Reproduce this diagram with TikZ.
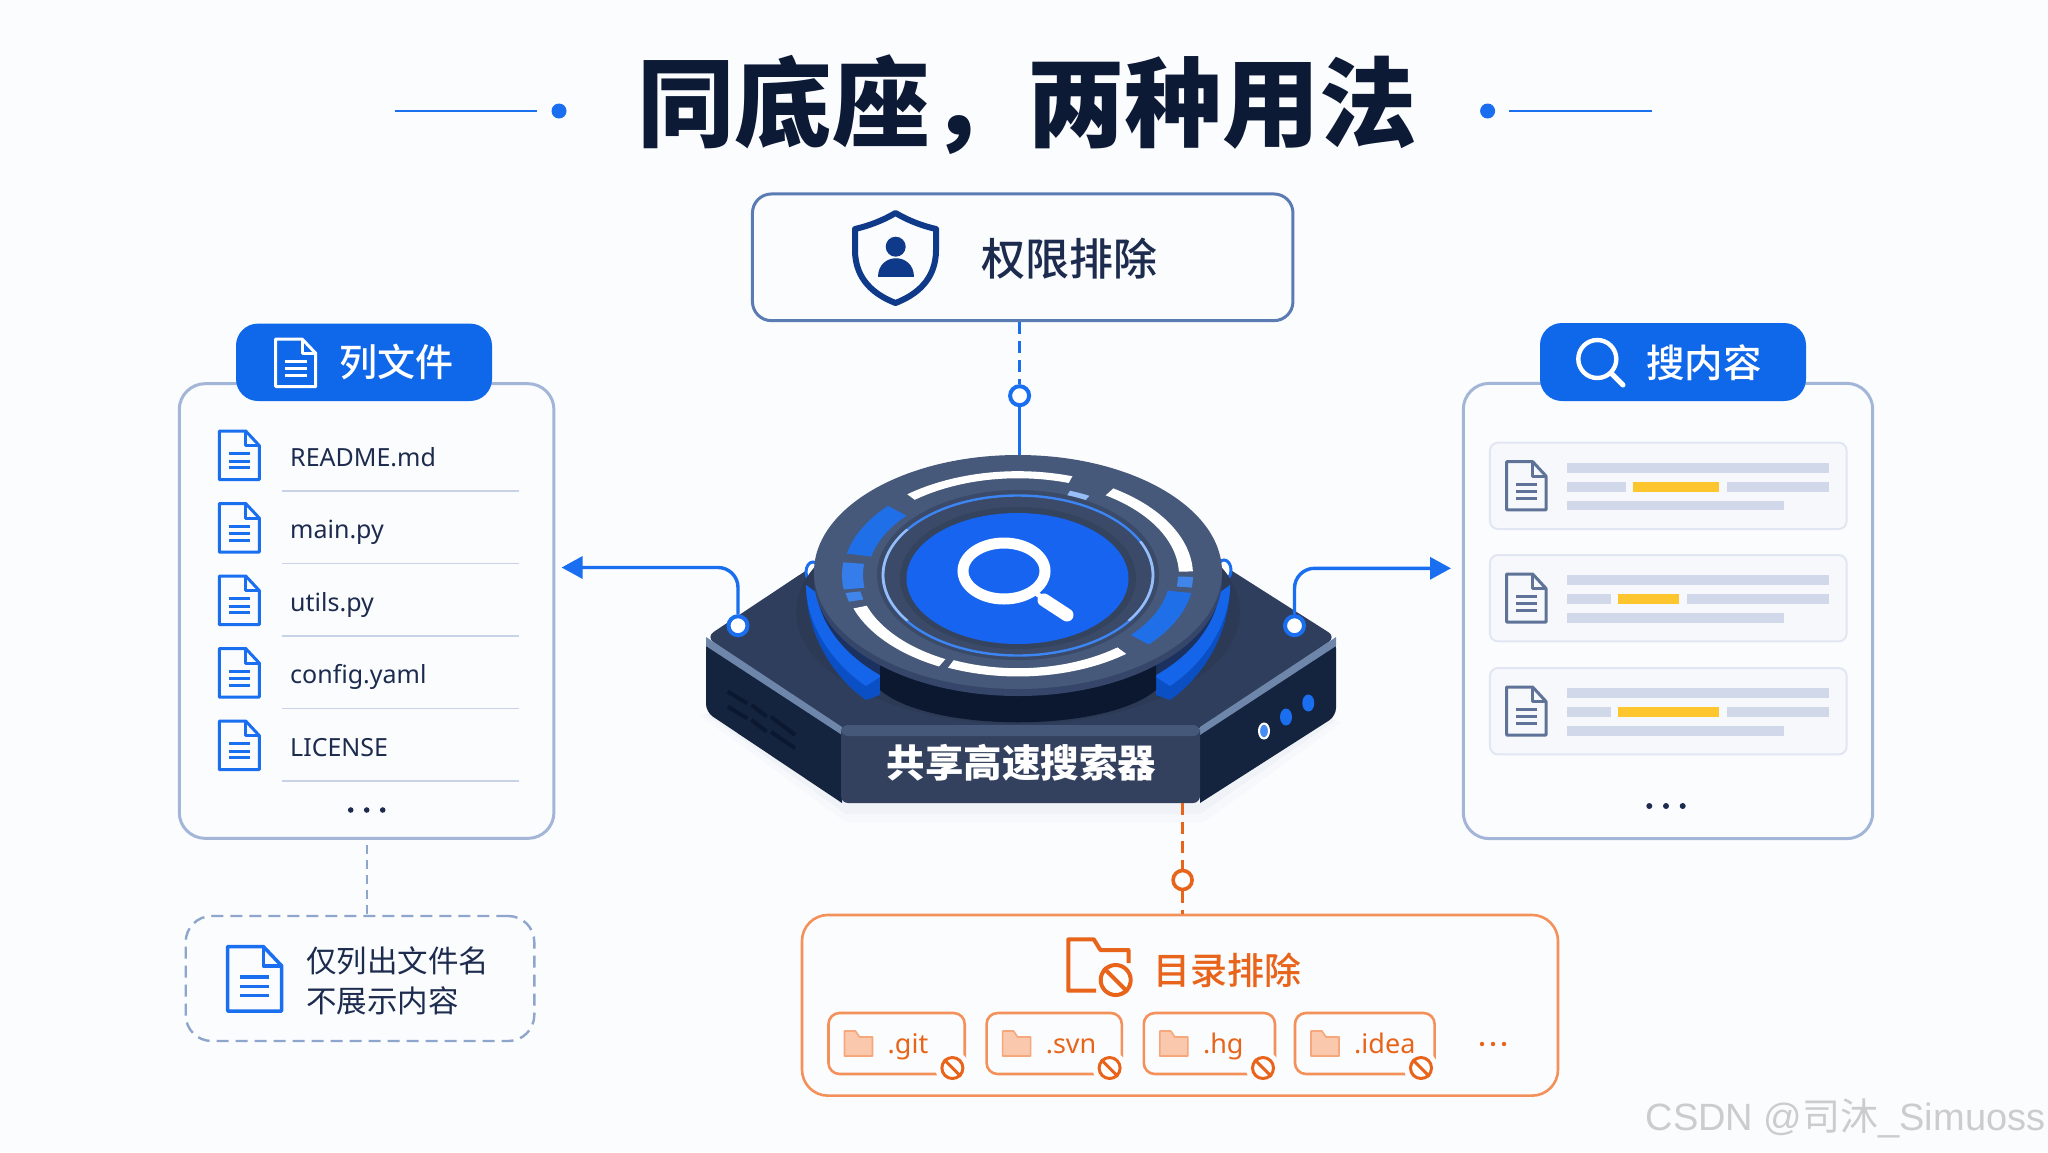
\documentclass[tikz,border=0pt]{standalone}
\usepackage{fontspec}
\setmainfont{Noto Sans CJK SC}
\newfontfamily\latfont{Noto Sans}
\newfontfamily\medfont{Noto Sans CJK SC Medium}
\newfontfamily\markfont{Liberation Sans}
\newfontfamily\markcjk{Noto Sans CJK SC}
\usetikzlibrary{arrows.meta,calc,shapes.geometric}
\definecolor{bgc}{HTML}{FBFCFE}
\definecolor{ink}{HTML}{1C2B4E}
\definecolor{titleink}{HTML}{0D1A36}
\definecolor{blue1}{HTML}{1A6FF0}
\definecolor{blue2}{HTML}{0F67EA}
\definecolor{panelline}{HTML}{A3B6D8}
\definecolor{noteline}{HTML}{8EA5CC}
\definecolor{permline}{HTML}{5B7BB3}
\definecolor{shield}{HTML}{0F3A8A}
\definecolor{orange1}{HTML}{E8641B}
\definecolor{orange2}{HTML}{F4915A}
\definecolor{rule1}{HTML}{C8D3E7}
\definecolor{cardfill}{HTML}{F6F8FC}
\definecolor{cardline}{HTML}{E0E6F2}
\definecolor{barc}{HTML}{D0D8E9}
\definecolor{hi}{HTML}{FDC62E}
\definecolor{slate}{HTML}{5F7398}
\definecolor{navytop}{HTML}{2F3E5C}
\definecolor{navyside}{HTML}{14233E}
\definecolor{plate}{HTML}{33415F}
\definecolor{plateup}{HTML}{46587A}
\definecolor{bevel}{HTML}{6F86AB}
\definecolor{discface}{HTML}{46597A}
\definecolor{discside}{HTML}{35466A}
\definecolor{discdark}{HTML}{3A4A68}
\definecolor{wing}{HTML}{1565EA}
\definecolor{wingdark}{HTML}{0B4FC4}
\definecolor{wingin}{HTML}{1B3160}
\definecolor{hole}{HTML}{0B1830}
\definecolor{segblue}{HTML}{1F6FE8}
\tikzset{
 x=1pt,y=-1pt,
 conn/.style={draw=blue1,line width=3.4pt},
 conndash/.style={conn,dash pattern=on 12pt off 7pt},
 orangedash/.style={draw=orange1,line width=2.8pt,dash pattern=on 12pt off 7pt},
 hubdot/.style={circle,draw=blue1,fill=white,line width=4pt,minimum size=19pt,inner sep=0pt},
 panel/.style={draw=panelline,fill=bgc,line width=3pt,rounded corners=26pt,inner sep=0pt},
 headerbox/.style={fill=blue2,rounded corners=22pt,inner sep=0pt},
 headtext/.style={text=white,font=\medfont\fontsize{38}{38}\selectfont,inner sep=0pt},
 filename/.style={text=ink,font=\latfont\fontsize{25}{25}\selectfont,anchor=base west,inner sep=0pt},
 notetext/.style={text=ink,font=\fontsize{30.5}{30.5}\selectfont,anchor=west,inner sep=0pt},
 chipbox/.style={draw=orange2,line width=2.6pt,rounded corners=11pt,inner sep=0pt},
 chiptext/.style={text=orange1,font=\latfont\fontsize{27}{27}\selectfont,anchor=base west,inner sep=0pt},
 banmark/.style={circle,draw=orange1,fill=white,line width=3pt,minimum size=21pt,inner sep=0pt},
 cardbox/.style={draw=cardline,fill=cardfill,line width=2pt,rounded corners=8pt,inner sep=0pt},
}
% file icon
\newcommand\docicon[6]{\begin{scope}[shift={(#1,#2)},x=#3pt,y=-#4pt,line width=#6pt,draw=#5,line join=round]
 \draw (0,0) -- (.66,0) -- (1,.30) -- (1,1) -- (0,1) -- cycle;
 \draw (.66,0) -- (.66,.30) -- (1,.30);
 \draw (.23,.47) -- (.77,.47) (.23,.62) -- (.77,.62) (.23,.76) -- (.77,.76);
\end{scope}}
% ring segment on the disc
\newcommand\segm[5]{\fill[#1] plot[domain=#2:#3,samples=24] ({1018+#4*cos(\x)},{575+0.59*#4*sin(\x)}) -- plot[domain=#3:#2,samples=24] ({1018+#5*cos(\x)},{575+0.59*#5*sin(\x)}) -- cycle;}
% side wing of the disc
\newcommand\wingpiece{%
 \fill[wingdark] (806,585) .. controls (806,630) and (830,675) .. (866,700) -- (880,695) -- (880,640) -- cycle;
 \fill[wing] (806,585) .. controls (806,622) and (830,662) .. (866,686) -- (880,677) -- (880,640) -- cycle;
 \fill[wingin] (816,590) .. controls (820,625) and (845,655) .. (880,675) -- (880,630) -- cycle;
}
% excluded-directory chip
\newcommand\chipitem[5]{%
 \node[chipbox,minimum width=#3-#2,minimum height=61pt] (chip#1) at ({(#2+#3)/2},1043.5) {};
 \fill[bgc] (#5,1068) circle[radius=17];
 \begin{scope}[shift={(#2+16,1031)}]
 \draw[draw=orange2!80,fill=orange2!50,line width=1.6pt,line join=round] (0,0) -- (11,0) -- (15,6) -- (28,6) -- (28,25) -- (0,25) -- cycle;
 \end{scope}
 \node[chiptext] (label#1) at (#2+59,1053) {#4};
 \node[banmark] (ban#1) at (#5,1068) {};
 \draw[orange1,line width=3pt] (ban#1.135) -- (ban#1.-45);
}
% search result card
\newcommand\cardrow[6]{%
 \node[cardbox,minimum width=356.7pt,minimum height=86.4pt] (card#1) at (1668.3,#2+43.2) {};
 \docicon{1506.7}{#2+19}{39.3}{48.2}{slate}{3}
 \fill[barc] (1566.7,#2+20.4) rectangle (1829.3,#2+29.9);
 \fill[barc] (1566.7,#2+39.4) rectangle (#3,#2+48.9);
 \fill[hi] (#4,#2+39.4) rectangle (#5,#2+48.9);
 \fill[barc] (#6,#2+39.4) rectangle (1829.3,#2+48.9);
 \fill[barc] (1566.7,#2+58.4) rectangle (1784,#2+67.8);
}
\begin{document}
\begin{tikzpicture}
\useasboundingbox (0,0) rectangle (2048,1152);
\fill[bgc] (0,0) rectangle (2048,1152);

% title
\node[text=titleink,font=\fontsize{97.5}{97.5}\selectfont\bfseries,inner sep=0pt] (title) at (1027,105) {同底座，两种用法};
\coordinate (tl1) at (394.5,111); \node[circle,fill=blue1,minimum size=15pt,inner sep=0pt] (tl2) at (559,111) {};
\coordinate (tr1) at (1652,111); \node[circle,fill=blue1,minimum size=15pt,inner sep=0pt] (tr2) at (1487.6,111) {};
\draw[blue1,line width=2.2pt] (tl1) -- (537,111);
\draw[blue1,line width=2.2pt] (tr1) -- (1508.5,111);

% left panel
\node[panel,minimum width=374.7pt,minimum height=454.7pt] (listpanel) at (366.6,611) {};
\node[headerbox,minimum width=256pt,minimum height=77.4pt] (listhead) at (364,362.3) {};
\docicon{275.7}{339}{40}{47.6}{white}{3}
\node[headtext] (listlabel) at (396,362.5) {列文件};
\foreach \i/\t in {0/README.md,1/main.py,2/utils.py,3/config.yaml,4/LICENSE}{
 \docicon{219.3}{431+72.5*\i}{40}{48.6}{blue1}{3}
 \node[filename] (file\i) at (290,466+72.5*\i) {\t};
 \coordinate (ra\i) at (281.7,490.8+72.5*\i);
 \coordinate (rb\i) at (519,490.8+72.5*\i);
 \draw[rule1,line width=1.6pt] (ra\i) -- (rb\i);
}
\foreach \x in {350.7,366.7,382.7}{\fill[ink] (\x,810) circle[radius=2.8];}
\node[draw=noteline,line width=2.4pt,dash pattern=on 12pt off 7pt,rounded corners=26pt,inner sep=0pt,minimum width=348.6pt,minimum height=125pt] (note) at (360,978.5) {};
\draw[noteline,line width=2.4pt,dash pattern=on 9pt off 6pt] (listpanel.south -| 367,840) ++(0,5) -- (note.north -| 367,916);
\docicon{227.7}{946.5}{54}{64.5}{blue1}{3.5}
\node[notetext] (note1) at (306,961) {仅列出文件名};
\node[notetext] (note2) at (306,1001) {不展示内容};

% right panel
\node[panel,minimum width=409.4pt,minimum height=455.3pt] (searchpanel) at (1668,611) {};
\node[headerbox,minimum width=266pt,minimum height=78pt] (searchhead) at (1673,362) {};
\draw[white,line width=4.4pt] (1597.3,359) circle[radius=19];
\draw[white,line width=5pt,line cap=round] (1611,373) -- (1623,385);
\node[headtext,font=\medfont\fontsize{38.5}{38.5}\selectfont] (searchlabel) at (1704,362.5) {搜内容};
\cardrow{a}{442.6}{1626}{1633.3}{1719}{1726.7}
\cardrow{b}{555}{1611}{1618.3}{1679}{1686.7}
\cardrow{c}{668}{1611}{1618.3}{1719}{1726.7}
\foreach \x in {1649.3,1666,1682.7}{\fill[ink] (\x,806) circle[radius=3];}

% top box
\node[draw=permline,line width=3pt,fill=bgc,rounded corners=19pt,inner sep=0pt,minimum width=540.5pt,minimum height=126.7pt] (permbox) at (1022.7,257.3) {};
\draw[draw=shield,line width=6pt,line join=round] (895.5,213) .. controls (882,221) and (868,226) .. (855,229) -- (855,250) .. controls (855,280) and (875,295) .. (895.5,303) .. controls (916,295) and (936,280) .. (936,250) -- (936,229) .. controls (923,226) and (909,221) .. (895.5,213) -- cycle;
\fill[shield] (895.7,246.7) circle[radius=10];
\fill[shield] (878,277) .. controls (878,252) and (913.6,252) .. (913.6,277) -- cycle;
\node[text=ink,font=\medfont\fontsize{44}{44}\selectfont,inner sep=0pt] (permlabel) at (1069,259) {权限排除};

% device shadow
\fill[noteline!8] (700,715) -- (846,822) -- (1204,822) -- (1342,722) -- (1200,700) -- (846,700) -- cycle;
\fill[noteline!14] (706,714) -- (846,814) -- (1200,814) -- (1336,720) -- (1200,700) -- (846,700) -- cycle;

% device body
\fill[navyside] (706,640) -- (842,727) -- (842,803) [rounded corners=8pt] -- (706,712) -- cycle;
\fill[navyside] (1336,640) -- (1200,727) -- (1200,803) [rounded corners=8pt] -- (1336,716) -- cycle;
\fill[navytop,rounded corners=9pt] (706,637) -- (840,548) -- (1196,548) -- (1336,637) -- (1200,730) -- (842,730) -- cycle;
\fill[bevel] (706,637) -- (842,727) -- (842,735) -- (706,646) -- cycle;
\fill[bevel] (1336,637) -- (1200,727) -- (1200,735) -- (1336,646) -- cycle;
\fill[plate,rounded corners=7pt] (841,725) rectangle (1200,803);
\fill[plateup,rounded corners=7pt] (841,725) -- (1200,725) -- (1200,736) -- (841,736) -- cycle;
\node[text=white,font=\fontsize{38.5}{38.5}\selectfont\bfseries,inner sep=0pt] (devlabel) at (1021.5,763) {共享高速搜索器};

% vents and lamps
\draw[hole,line width=4pt] (727.7,691.7) -- (747.2,703.3) (727.7,706.7) -- (747.2,718.3) (751.6,705) -- (766.7,716.7) (751.6,720) -- (766.7,731.7) (771,716.7) -- (795,735) (771,731.7) -- (795,748.3);
\draw[white,fill=blue1!80,line width=2pt] (1264,731) ellipse[x radius=5,y radius=7.5];
\fill[blue1] (1286,717) ellipse[x radius=6,y radius=8.5];
\fill[blue1] (1308.3,703) ellipse[x radius=6,y radius=8.5];

% studs, wings, hub disc
\draw[blue1,fill=white,line width=3pt] (813,572) ellipse[x radius=7,y radius=10];
\draw[blue1,fill=white,line width=3pt] (1224,570) ellipse[x radius=7,y radius=10];
\fill[navytop!93!black] (1018,612) ellipse[x radius=222,y radius=112];
\wingpiece
\begin{scope}[xshift=2036pt,xscale=-1]\wingpiece\end{scope}
\fill[hole] (880,640) -- (880,690) .. controls (930,733) and (1106,733) .. (1156,690) -- (1156,640) -- cycle;
\fill[discside] (1018,579) ellipse[x radius=204,y radius=117];
\fill[discface] (1018,572) ellipse[x radius=204,y radius=117];
\coordinate (hubtop) at (1019.6,455);
\coordinate (hubbottom) at (1182.6,803);

\fill[discdark] (1018,575) ellipse[x radius=141,y radius=85];
\draw[blue1!85!white,line width=2.4pt] (1018,575.5) ellipse[x radius=135,y radius=80];
\segm{blue1!45!white}{-25}{35}{133.6}{136.4}
\segm{blue1!45!white}{145}{215}{133.6}{136.4}
\fill[discdark!90!black] (1018,578) ellipse[x radius=118,y radius=71];
\fill[blue1!90!blue] (1017.5,578.5) ellipse[x radius=111,y radius=65.5];
\draw[white,line width=11pt] (1004,571) ellipse[x radius=41,y radius=28];
\draw[white,line width=5pt] (1036,593) -- (1046,601);
\draw[white,line width=13pt,line cap=round] (1044,600) -- (1067,615);

\segm{white}{-129}{-72}{164}{176}
\segm{white}{-57}{-2}{161}{175}
\segm{blue1!45!white}{-70}{-62}{144}{152}
\segm{segblue!85!white}{1}{7}{160}{175}
\segm{segblue}{10}{42}{152}{176}
\segm{white}{51}{114}{158}{172}
\segm{white}{117}{161}{160}{174}
\segm{segblue!85!white}{165}{170}{160}{175}
\segm{segblue!90!white}{172}{187}{155}{176}
\segm{segblue}{192}{222}{150}{175}

% bottom box
\node[draw=orange2,line width=2.6pt,fill=bgc,rounded corners=26pt,inner sep=0pt,minimum width=756pt,minimum height=180.7pt] (dirbox) at (1180,1005.3) {};
\draw[orange1,line width=4pt,line join=round] (1128.5,963) -- (1128.5,950) -- (1100.4,950) -- (1093.8,939.3) -- (1068.3,939.3) -- (1068.3,990.7) -- (1096,990.7);
\node[banmark,line width=4pt,minimum size=30pt] (dirban) at (1115.7,980) {};
\draw[orange1,line width=4pt] (dirban.135) -- (dirban.-45);
\node[text=orange1,font=\medfont\fontsize{37}{37}\selectfont,inner sep=0pt] (dirlabel) at (1227,970.5) {目录排除};
\chipitem{git}{828.5}{964.7}{.git}{952.4}
\chipitem{svn}{986.6}{1121.8}{.svn}{1109.6}
\chipitem{hg}{1143.8}{1275}{.hg}{1263}
\chipitem{idea}{1295}{1434.6}{.idea}{1421}
\foreach \x in {1482,1493,1504}{\fill[orange1] (\x,1044) circle[radius=2.2];}

% connectors
\node[hubdot] (topdot) at (1019.6,395.7) {};
\draw[conndash] (permbox.south -| topdot) -- (topdot.north);
\draw[conn] (topdot.south) -- (hubtop);
\node[circle,draw=orange1,fill=white,line width=3.6pt,minimum size=19pt,inner sep=0pt] (botdot) at (1182.6,880) {};
\draw[orangedash] (hubbottom) -- (botdot.north);
\draw[orangedash] (botdot.south) -- (dirbox.north -| botdot);
\node[hubdot,minimum size=19pt] (leftdot) at (738,625.7) {};
\node[hubdot,minimum size=19pt] (rightdot) at (1294.5,625.7) {};
\coordinate (leftend) at (561.6,567.5);
\coordinate (rightend) at (1451,568.3);
\draw[conn,rounded corners=20pt,-{Triangle[length=21pt,width=22pt]}] (leftdot.north) |- (leftend);
\draw[conn,rounded corners=20pt,-{Triangle[length=21pt,width=22pt]}] (rightdot.north) |- (rightend);

% watermark
\node[text=black!20,font=\markfont\fontsize{38}{38}\selectfont,anchor=base east,inner sep=0pt] (mark) at (2045.5,1130) {CSDN @{\markcjk 司沐}\_Simuoss};
\end{tikzpicture}
\end{document}
